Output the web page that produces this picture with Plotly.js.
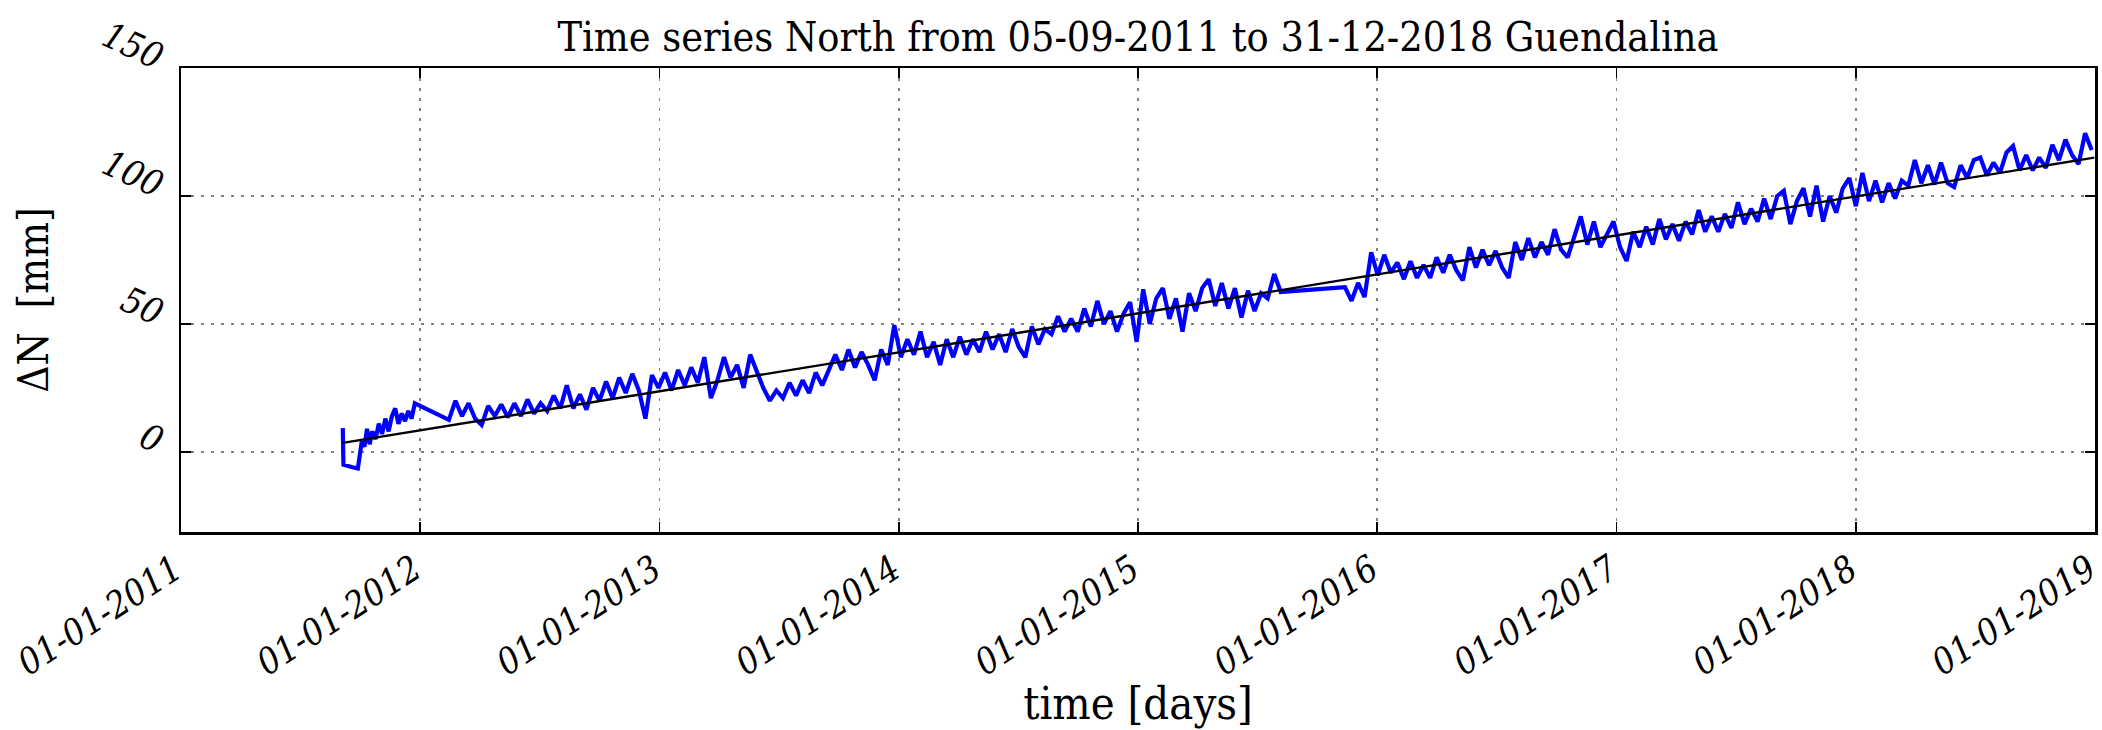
<!DOCTYPE html>
<html>
<head>
<meta charset="utf-8">
<script src="https://cdn.plot.ly/plotly-3.0.1.min.js"></script>
<style>html,body{margin:0;padding:0;background:#fff;}</style>
</head>
<body>
<div id="chart" style="width:2102px;height:730px;"></div>
<script>
// ---- data ----
// first, irregular stretch of observations (autumn 2011)
const segADates = ['2011-09-05','2011-09-06','2011-09-20','2011-09-28','2011-10-04','2011-10-08','2011-10-12','2011-10-16','2011-10-20','2011-10-25','2011-10-30','2011-11-04','2011-11-09','2011-11-14','2011-11-19','2011-11-24','2011-11-29','2011-12-04','2011-12-09','2011-12-14','2011-12-19','2011-12-24'];
const segAValues = [9.3,-5,-6,-6.5,4,2,9,3,8,5,11,7,13,8,14,17,11,15,12,16,13,19];

// second stretch: from 2012-02-14, one reading every 10 days
const segBStart = '2012-02-14';
const segBValues = [12.5,20,14,19,13,10.5,18,14,18.5,13.5,
  19,14,20.5,15,19,16,22,17,26,17,
  22.5,16.5,25,20,27.5,21,29,23,30.5,24,
  13,30,25,31,24,32,26,33,27,37,
  21,28,37,29,34,25,38,31,25,20,
  24,21,27,22,28,23,31,26,32,38,
  32,40,33,39,34,28,40,34,49.5,37,
  44,38,47,37,43,34,44,37,45,38,
  44,39,47,40,46,39,48,41,37,49,
  42,48,46,53,47,52,47,56,49,59,
  50,55,47,54,58.5,43,63.5,50,60,64,
  52,60,47,62,55,64,67.5,57,66,56,
  64,52.5,63,55,62,60,69.5,62.5];

// third stretch: from 2015-11-13, one reading every 10 days
const segCStart = '2015-11-13';
const segCValues = [64.4,59,66,60.5,78,69,77,70,74,67.5,
  74.5,68,73,68,76,70,77,71,67,80,
  72,79,73,78.5,72,68,82,75,83.5,76,
  82,77,87,79,76,84,92,81,90,80,
  85,90,80,74.6,86,80,88,81,91,83,
  89,82.5,90,85,94.5,86,92,86,93,87.5,
  97.5,89,95,90,99,91,100,102,89,98,
  103,92,104,90,100,93.5,103,107,96,109,
  98,106,97.5,105,99,106,104,114,105,112,
  104.5,113,105,103.5,112,107,114,115,108,113,
  109,117,119.5,110,116,110,115,111,120,114,
  122,116,112.5,124.5,118];
const stepDays = 10;

// linear trend fitted to the series (end points)
const trendDates = ['2011-09-05','2018-12-31'];
const trendValues = [3.5, 115];

// axis ticks
const xTickDates = ['2011-01-01','2012-01-01','2013-01-01','2014-01-01','2015-01-01','2016-01-01','2017-01-01','2018-01-01','2019-01-01'];
const yTickVals = [0, 50, 100, 150];

// ---- build series ----
function datesFrom(start, n, step) {
  const p = start.split('-').map(Number);
  const t0 = Date.UTC(p[0], p[1]-1, p[2]);
  const out = [];
  for (let i = 0; i < n; i++) out.push(new Date(t0 + i*step*86400000).toISOString().slice(0,10));
  return out;
}
const xs = segADates.concat(datesFrom(segBStart, segBValues.length, stepDays), datesFrom(segCStart, segCValues.length, stepDays));
const ys = segAValues.concat(segBValues, segCValues);

const SERIF = '"DejaVu Serif Condensed", "DejaVu Serif", serif';

const traces = [
  {x: xs, y: ys, type: 'scatter', mode: 'lines', line: {color: '#0000ff', width: 4.2}, hoverinfo: 'skip'},
  {x: trendDates, y: trendValues, type: 'scatter', mode: 'lines', line: {color: '#000000', width: 2.4}, hoverinfo: 'skip'}
];

const gridStyle = {showgrid: true, gridcolor: '#808080', gridwidth: 1.3, griddash: '3px,7px',
  showline: true, linecolor: '#000', linewidth: 2.5, mirror: 'allticks',
  ticks: 'inside', ticklen: 10, tickwidth: 1.3, tickcolor: '#000', zeroline: false,
  ticklabeloverflow: 'allow'};

const layout = {
  width: 2102, height: 730,
  margin: {l: 181, r: 7, t: 68, b: 198, pad: 0},
  paper_bgcolor: '#fff', plot_bgcolor: '#fff',
  showlegend: false,
  font: {family: SERIF, color: '#000'},
  title: {text: 'Time series North from 05-09-2011 to 31-12-2018 Guendalina',
    font: {family: SERIF, size: 41, color: '#000'},
    xref: 'paper', x: 0.5, xanchor: 'center', yref: 'container', y: 1 - 37/730, yanchor: 'middle'},
  xaxis: Object.assign({}, gridStyle, {
    type: 'date', range: ['2011-01-01', '2019-01-01 02:00'],
    tickmode: 'array', tickvals: xTickDates, tickformat: '%d-%m-%Y',
    tickangle: -33, ticklabelshift: -6, tickfont: {family: SERIF, size: 36, style: 'italic', color: '#000'},
    title: {text: 'time [days]', font: {family: SERIF, size: 45, color: '#000'}, standoff: 44}
  }),
  yaxis: Object.assign({}, gridStyle, {
    range: [-31.3, 150], tickmode: 'array', tickvals: yTickVals,
    tickangle: 25, ticklabelshift: -9, ticklabelstandoff: 8,
    tickfont: {family: SERIF, size: 36, style: 'italic', color: '#000'},
    title: {text: '\u0394N\u00a0\u00a0[mm]', font: {family: SERIF, size: 42, color: '#000'}, standoff: 35}
  })
};

Plotly.newPlot('chart', traces, layout, {staticPlot: true, displayModeBar: false});
</script>
</body>
</html>
